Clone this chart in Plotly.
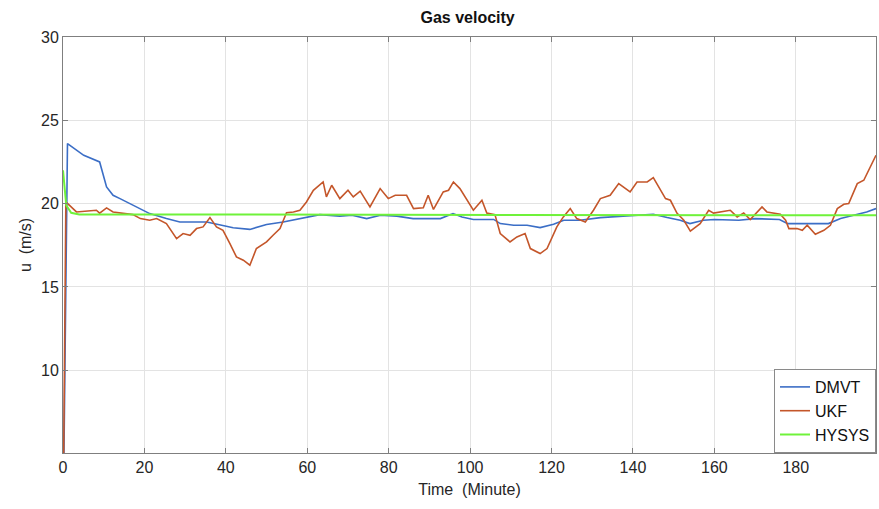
import plotly.graph_objects as go

# ---- data ----
dmvt_t = [0, 1.1, 5.1, 9, 10.7, 12.3, 14, 17.2, 21.3, 25.4, 28.7, 35.3, 41.8, 45.9, 50, 54.1,
          59.8, 63.1, 68, 71, 74.6, 78, 82, 86, 92.7, 95.8, 98, 100.8, 105.8, 107.4, 110.7,
          114, 117.2, 120.5, 123, 127, 132, 139.4, 145, 148.4, 151.6, 154, 157.3, 160, 166,
          170, 176, 178, 188, 191, 194.2, 197.4, 199.7]
dmvt_u = [0, 23.6, 22.9, 22.5, 21.0, 20.5, 20.3, 19.9, 19.4, 19.1, 18.9, 18.9, 18.55, 18.45,
          18.75, 18.9, 19.2, 19.34, 19.25, 19.3, 19.1, 19.3, 19.25, 19.1, 19.1, 19.4, 19.2,
          19.05, 19.05, 18.8, 18.7, 18.7, 18.56, 18.76, 19.0, 19.0, 19.16, 19.26, 19.36,
          19.16, 19.0, 18.8, 19.0, 19.05, 19.0, 19.1, 19.05, 18.8, 18.8, 19.1, 19.3, 19.5, 19.7]

ukf_t = [0, 0.7, 3.3, 5.75, 8.2, 9, 10.7, 12.3, 14.8, 17.2, 19, 21.3, 23, 25.4, 27.9, 29.5,
         31.2, 32.8, 34.4, 36.1, 37.7, 39.3, 41, 42.6, 44.3, 45.9, 47.5, 50, 51.6, 53.3, 54.9,
         56.6, 58.2, 59.8, 61.5, 63.9, 64.7, 66, 68, 70, 71.3, 73, 75.4, 77.9, 79.9, 81.6,
         84.4, 86.1, 88.5, 89.7, 91, 93.4, 94.7, 95.9, 97.5, 99.2, 100.8, 102.9, 104.1,
         106.1, 107.4, 109.8, 111.5, 113.5, 114.8, 117.2, 118.9, 121.3, 122.9, 124.6, 126.2,
         128.3, 130.3, 132, 134.4, 136.5, 139.3, 141, 143.5, 145, 148, 149.2, 150.8, 152.5,
         154.1, 156.5, 158.6, 159.8, 163.9, 165.6, 167.2, 168.8, 171.7, 172.9, 176.2, 177.5,
         178.3, 180.3, 181.6, 182.8, 184.8, 186.9, 188.5, 190.2, 191.8, 193, 195.1, 196.7,
         198.4, 199.7]
ukf_u = [0, 20.1, 19.5, 19.56, 19.6, 19.43, 19.74, 19.5, 19.44, 19.34, 19.1, 19.0, 19.1, 18.8,
         17.9, 18.2, 18.1, 18.5, 18.6, 19.16, 18.6, 18.4, 17.6, 16.8, 16.6, 16.3, 17.3, 17.7,
         18.1, 18.5, 19.45, 19.5, 19.6, 20.1, 20.8, 21.3, 20.4, 21.1, 20.3, 20.8, 20.4, 20.75,
         19.8, 20.9, 20.3, 20.5, 20.5, 19.7, 19.75, 20.5, 19.65, 20.7, 20.8, 21.3, 20.9, 20.2,
         19.6, 20.2, 19.43, 19.34, 18.2, 17.7, 18.0, 18.2, 17.3, 17.0, 17.3, 18.6, 19.2, 19.7,
         19.1, 18.9, 19.6, 20.3, 20.5, 21.2, 20.7, 21.3, 21.3, 21.56, 20.3, 20.2, 19.43, 19.0,
         18.35, 18.8, 19.6, 19.43, 19.6, 19.2, 19.44, 19.04, 19.8, 19.5, 19.36, 19.0, 18.5,
         18.5, 18.4, 18.7, 18.16, 18.4, 18.7, 19.7, 19.96, 20.0, 21.2, 21.4, 22.3, 22.9]

hysys_t = [0, 0.8, 2, 4, 199.7]
hysys_u = [22.0, 19.9, 19.45, 19.35, 19.3]

x_ticks = [0, 20, 40, 60, 80, 100, 120, 140, 160, 180]
y_ticks = [10, 15, 20, 25, 30]

FONT = "Liberation Sans, Arial, sans-serif"

fig = go.Figure()
fig.add_trace(go.Scatter(x=dmvt_t, y=dmvt_u, mode="lines", name="DMVT",
                         line=dict(color="#3b6ec6", width=1.6)))
fig.add_trace(go.Scatter(x=ukf_t, y=ukf_u, mode="lines", name="UKF",
                         line=dict(color="#c4562a", width=1.6)))
fig.add_trace(go.Scatter(x=hysys_t, y=hysys_u, mode="lines", name="HYSYS",
                         line=dict(color="#6ff23a", width=2)))

axis_common = dict(showline=True, linecolor="#7f7f7f", linewidth=1, mirror="ticks",
                   ticks="inside", ticklen=5, tickcolor="#7f7f7f",
                   showgrid=True, gridcolor="#e3e3e3", gridwidth=1, zeroline=False,
                   tickfont=dict(family=FONT, size=16, color="#262626"))

fig.update_xaxes(range=[0, 199.7], tickvals=x_ticks,
                 title=dict(text="Time  (Minute)", font=dict(family=FONT, size=16, color="#262626"),
                            standoff=8),
                 **axis_common)
fig.update_yaxes(range=[5.03, 30], tickvals=y_ticks,
                 title=dict(text="u  (m/s)", font=dict(family=FONT, size=16, color="#262626"),
                            standoff=5),
                 **axis_common)

fig.update_layout(
    width=879, height=509,
    margin=dict(l=63, r=3, t=37, b=56, autoexpand=False),
    paper_bgcolor="white", plot_bgcolor="white",
    title=dict(text="<b>Gas velocity</b>", x=0.532, xanchor="center", y=0.965, yanchor="middle",
               font=dict(family=FONT, size=16, color="#111111")),
    legend=dict(x=1, y=0, xanchor="right", yanchor="bottom",
                bgcolor="white", bordercolor="#8a8a8a", borderwidth=1,
                font=dict(family=FONT, size=16, color="#111111"),
                tracegroupgap=0, itemwidth=30),
    showlegend=True,
)

fig.write_html("out.html", config={"displayModeBar": False},
               post_script="document.body.style.margin='0';document.body.style.overflow='hidden';")
